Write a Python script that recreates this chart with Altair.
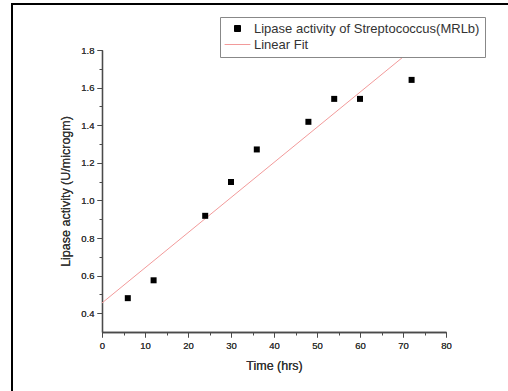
import altair as alt
import pandas as pd

# ---- data ----
time_hrs = [6, 12, 24, 30, 36, 48, 54, 60, 72]
lipase = [0.48, 0.575, 0.918, 1.098, 1.271, 1.418, 1.54, 1.54, 1.641]
series_names = ["Lipase activity of Streptococcus(MRLb)", "Linear Fit"]
x_ticks = [0, 10, 20, 30, 40, 50, 60, 70, 80]
x_minor = [5, 15, 25, 35, 45, 55, 65, 75]
y_ticks = [0.4, 0.6, 0.8, 1.0, 1.2, 1.4, 1.6, 1.8]
y_minor = [0.5, 0.7, 0.9, 1.1, 1.3, 1.5, 1.7]

df = pd.DataFrame({"time": time_hrs, "activity": lipase, "series": series_names[0]})

FONT = "Liberation Sans"
INK = "#333333"
AX = "#4a4a4a"
FIT = "#f29a9a"

xs = alt.Scale(domain=[0, 80], nice=False, zero=False)
ys = alt.Scale(domain=[0.3, 1.8], nice=False, zero=False)

color_scale = alt.Scale(domain=series_names, range=["#000000", FIT])
shape_scale = alt.Scale(domain=series_names, range=["square", "M-4.3,0H4.3"])

legend = alt.Legend(
    title=None, orient="none", legendX=118, legendY=-33,
    fillColor="white", strokeColor="#888888", padding=5,
    symbolOffset=6, labelOffset=10, labelFontSize=13, labelFont=FONT,
    labelColor=INK, symbolSize=36, rowPadding=2, labelLimit=400,
    symbolStrokeColor={"expr": "datum.value == 'Linear Fit' ? '%s' : '#000000'" % FIT},
    symbolStrokeWidth=1,
)

main_x = alt.Axis(values=x_ticks, title="Time (hrs)", orient="bottom", tickSize=5,
                  labelPadding=3, titlePadding=10, labelFontSize=9.5, titleFontSize=12.5,
                  titleFontWeight="normal", grid=False, labelFlush=False)
main_y = alt.Axis(values=y_ticks, format=".1f", title="Lipase activity (U/microgm)",
                  orient="left", tickSize=5, labelPadding=3, titlePadding=8,
                  labelFontSize=9.5, titleFontSize=12.5, titleFontWeight="normal",
                  grid=False, labelFlush=False)
minor_x = alt.Axis(values=x_minor, labels=False, domain=False, tickSize=3,
                   orient="bottom", title=None, grid=False)
minor_y = alt.Axis(values=y_minor, labels=False, domain=False, tickSize=3,
                   orient="left", title=None, grid=False)

frame = alt.Chart(alt.Data(values=[{}])).mark_rect(
    fillOpacity=0, stroke="black", strokeWidth=2
).encode(x=alt.value(-90), y=alt.value(-46), x2=alt.value(520), y2=alt.value(420))

fit = alt.Chart(df).transform_regression(
    "time", "activity", extent=[0, 80]
).mark_line(clip=True, color=FIT, strokeWidth=1).encode(
    x=alt.X("time:Q", scale=xs, axis=main_x),
    y=alt.Y("activity:Q", scale=ys, axis=main_y),
)

points = alt.Chart(df).mark_point(filled=True, opacity=1, size=36).encode(
    x=alt.X("time:Q", scale=xs, axis=main_x),
    y=alt.Y("activity:Q", scale=ys, axis=main_y),
    color=alt.Color("series:N", scale=color_scale, legend=legend),
    shape=alt.Shape("series:N", scale=shape_scale, legend=legend),
)

minor = alt.Chart(df).mark_point(opacity=0).encode(
    x=alt.X("time:Q", scale=xs, axis=minor_x),
    y=alt.Y("activity:Q", scale=ys, axis=minor_y),
)

chart = alt.layer(frame, fit, points, minor).resolve_axis(
    x="independent", y="independent"
).properties(
    width=344, height=282,
    autosize=alt.AutoSizeParams(type="none"),
    padding={"left": 102, "top": 50, "right": 62, "bottom": 59},
    background="white",
).configure_view(stroke=None).configure_axis(
    labelFont=FONT, titleFont=FONT, labelColor=INK, titleColor=INK,
    domainColor=AX, tickColor=AX, domainWidth=1.3, tickWidth=1,
    titleFontWeight="normal",
)

chart.save("out.html", embed_options={"renderer": "svg", "actions": False})
